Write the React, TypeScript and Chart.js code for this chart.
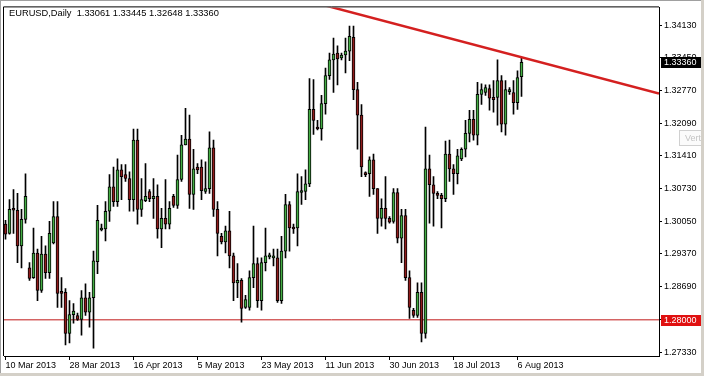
import { useEffect, useRef } from 'react';
import { Chart, registerables } from 'chart.js';

Chart.register(...registerables);

const symbolTitle = 'EURUSD,Daily';

const opens = [
  1.2999, 1.2980, 1.3032, 1.3028, 1.2954, 1.3009, 1.2908, 1.2888, 1.2939, 1.2861,
  1.2937, 1.2898, 1.2960, 1.3015, 1.2859, 1.2857, 1.2772, 1.2811, 1.2809, 1.2801,
  1.2846, 1.2816, 1.2846, 1.2921, 1.2987, 1.2989, 1.3026, 1.3077, 1.3046, 1.3112,
  1.3102, 1.3094, 1.3050, 1.3174, 1.3030, 1.3048, 1.3067, 1.3052, 1.3057, 1.2989,
  1.3011, 1.2999, 1.3057, 1.3038, 1.3092, 1.3164, 1.3176, 1.3061, 1.3118, 1.3118,
  1.3067, 1.3073, 1.3158, 1.3030, 1.2974, 1.2962, 1.2985, 1.2933, 1.2877, 1.2882,
  1.2826, 1.2826, 1.2888, 1.2917, 1.2840, 1.2919, 1.2931, 1.2929, 1.2929, 1.2840,
  1.2943, 1.3040, 1.2993, 1.2991, 1.3065, 1.3067, 1.3083, 1.3238, 1.3199, 1.3197,
  1.3250, 1.3308, 1.3341, 1.3355, 1.3345, 1.3351, 1.3359, 1.3388, 1.3279, 1.3226,
  1.3104, 1.3104, 1.3133, 1.3073, 1.3011, 1.3032, 1.3011, 1.3005, 1.3065, 1.2970,
  1.3017, 1.2888, 1.2820, 1.2809, 1.2857, 1.2772, 1.3114, 1.3081, 1.3061, 1.3059,
  1.3052, 1.3145, 1.3114, 1.3104, 1.3135, 1.3155, 1.3188, 1.3217, 1.3184, 1.3269,
  1.3273, 1.3281, 1.3263, 1.3263, 1.3298, 1.3207, 1.3275, 1.3273, 1.3252, 1.33061,
];
const highs = [
  1.3007, 1.3050, 1.3071, 1.3063, 1.3030, 1.3104, 1.2919, 1.2991, 1.2947, 1.2974,
  1.2954, 1.3005, 1.3046, 1.3046, 1.2888, 1.2865, 1.2840, 1.2834, 1.2814, 1.2861,
  1.2875, 1.2857, 1.2943, 1.3038, 1.2999, 1.3046, 1.3102, 1.3118, 1.3135, 1.3123,
  1.3123, 1.3108, 1.3197, 1.3197, 1.3094, 1.3125, 1.3071, 1.3094, 1.3081, 1.3032,
  1.3092, 1.3046, 1.3061, 1.3143, 1.3184, 1.3240, 1.3226, 1.3155, 1.3125, 1.3133,
  1.3129, 1.3191, 1.3174, 1.3046, 1.2980, 1.2995, 1.3026, 1.2939, 1.2917, 1.2886,
  1.2851, 1.2902, 1.2995, 1.2929, 1.2929, 1.2991, 1.2939, 1.2947, 1.2947, 1.2974,
  1.3061, 1.3046, 1.2999, 1.3104, 1.3098, 1.3112, 1.3302, 1.3300, 1.3215, 1.3267,
  1.3324, 1.3355, 1.3386, 1.3370, 1.3355, 1.3386, 1.3411, 1.3411, 1.3294, 1.3248,
  1.3108, 1.3139, 1.3145, 1.3073, 1.3052, 1.3098, 1.3015, 1.3073, 1.3073, 1.3030,
  1.3030, 1.2902, 1.2824, 1.2877, 1.2877, 1.3201, 1.3143, 1.3098, 1.3067, 1.3063,
  1.3172, 1.3174, 1.3123, 1.3155, 1.3158, 1.3215, 1.3236, 1.3236, 1.3294, 1.3291,
  1.3289, 1.3289, 1.3298, 1.3341, 1.3308, 1.3298, 1.3283, 1.3298, 1.3318, 1.33445,
];
const lows = [
  1.2968, 1.2978, 1.2980, 1.2919, 1.2908, 1.3001, 1.2882, 1.2886, 1.2840, 1.2857,
  1.2886, 1.2886, 1.2958, 1.2826, 1.2826, 1.2748, 1.2752, 1.2793, 1.2799, 1.2768,
  1.2809, 1.2785, 1.2741, 1.2896, 1.2985, 1.2964, 1.3005, 1.3036, 1.3036, 1.3050,
  1.3088, 1.3026, 1.3026, 1.2999, 1.3015, 1.3046, 1.3046, 1.3011, 1.2970, 1.2950,
  1.2989, 1.2989, 1.3034, 1.3032, 1.3088, 1.3164, 1.3032, 1.3030, 1.3104, 1.3050,
  1.3063, 1.3063, 1.3015, 1.2933, 1.2958, 1.2939, 1.2908, 1.2840, 1.2846, 1.2795,
  1.2824, 1.2820, 1.2867, 1.2826, 1.2820, 1.2902, 1.2927, 1.2912, 1.2836, 1.2834,
  1.2929, 1.2943, 1.2980, 1.2954, 1.3040, 1.3050, 1.3077, 1.3186, 1.3195, 1.3174,
  1.3228, 1.3300, 1.3273, 1.3289, 1.3341, 1.3314, 1.3339, 1.3258, 1.3155, 1.3098,
  1.3098, 1.3057, 1.3061, 1.2980, 1.2995, 1.2989, 1.3001, 1.3001, 1.2960, 1.2919,
  1.2882, 1.2803, 1.2805, 1.2805, 1.2754, 1.2762, 1.3001, 1.2995, 1.3052, 1.2991,
  1.3046, 1.3088, 1.3061, 1.3083, 1.3131, 1.3139, 1.3170, 1.3174, 1.3164, 1.3248,
  1.3267, 1.3236, 1.3232, 1.3205, 1.3191, 1.3184, 1.3269, 1.3228, 1.3238, 1.32648,
];
const closes = [
  1.2978, 1.3030, 1.3028, 1.2954, 1.3009, 1.3057, 1.2886, 1.2939, 1.2861, 1.2937,
  1.2898, 1.2980, 1.3015, 1.2855, 1.2855, 1.2772, 1.2811, 1.2818, 1.2801, 1.2846,
  1.2816, 1.2846, 1.2923, 1.3007, 1.2991, 1.3026, 1.3077, 1.3046, 1.3112, 1.3098,
  1.3094, 1.3050, 1.3174, 1.3030, 1.3050, 1.3057, 1.3052, 1.3057, 1.2989, 1.3011,
  1.2999, 1.3032, 1.3038, 1.3092, 1.3164, 1.3176, 1.3061, 1.3114, 1.3112, 1.3069,
  1.3073, 1.3158, 1.3030, 1.2980, 1.2962, 1.2985, 1.2933, 1.2877, 1.2882, 1.2824,
  1.2842, 1.2888, 1.2917, 1.2840, 1.2919, 1.2933, 1.2933, 1.2933, 1.2840, 1.2943,
  1.3040, 1.2991, 1.2989, 1.3067, 1.3069, 1.3083, 1.3238, 1.3215, 1.3197, 1.3250,
  1.3308, 1.3341, 1.3353, 1.3343, 1.3351, 1.3359, 1.3390, 1.3279, 1.3226, 1.3118,
  1.3102, 1.3133, 1.3073, 1.3011, 1.3032, 1.3011, 1.3003, 1.3065, 1.2970, 1.3017,
  1.2888, 1.2826, 1.2809, 1.2857, 1.2772, 1.3114, 1.3081, 1.3063, 1.3059, 1.3052,
  1.3145, 1.3114, 1.3104, 1.3141, 1.3155, 1.3188, 1.3217, 1.3184, 1.3269, 1.3279,
  1.3283, 1.3261, 1.3258, 1.3298, 1.3207, 1.3279, 1.3277, 1.3252, 1.3304, 1.33360,
];

const dateLabels = [
  '10 Mar 2013', '28 Mar 2013', '16 Apr 2013', '5 May 2013', '23 May 2013',
  '11 Jun 2013', '30 Jun 2013', '18 Jul 2013', '6 Aug 2013',
];
const dateTickBars = [0, 16, 32, 48, 64, 80, 96, 112, 128];

const priceTicks = [
  1.2733, 1.2801, 1.2869, 1.2937, 1.3005, 1.3073, 1.3141, 1.3209, 1.3277, 1.3345, 1.3413,
];

const supportLevel = 1.28;
const trendBars = [80, 163.375];
const trendPrices = [1.3454, 1.32711];

const GREEN = '#44ad44';
const RED = '#901c1c';
const FONT = "'Liberation Sans', Arial, sans-serif";

export default function App() {
  const ref = useRef<HTMLCanvasElement | null>(null);

  useEffect(() => {
    document.body.style.margin = '0';
    const canvas = ref.current;
    if (!canvas) return;

    const idx = opens.map((_, i) => i);
    const wickData = idx.map((i) => ({ x: i, y: [lows[i], highs[i]] }));
    const bodyData = idx.map((i) => ({ x: i, y: [opens[i], closes[i]] }));
    const bodyColors = idx.map((i) => (closes[i] >= opens[i] ? GREEN : RED));
    const last = opens.length - 1;

    const overlay = {
      id: 'overlay',
      beforeDraw(chart: any) {
        const { ctx, width, height } = chart;
        ctx.save();
        ctx.fillStyle = '#ffffff';
        ctx.fillRect(0, 0, width, height);
        ctx.restore();
      },
      afterDraw(chart: any) {
        const { ctx, chartArea, width, height } = chart;
        const ys = chart.scales.y;
        ctx.save();
        ctx.strokeStyle = '#000';
        ctx.lineWidth = 1;
        ctx.beginPath();
        ctx.moveTo(chartArea.left - 0.5, chartArea.bottom);
        ctx.lineTo(chartArea.left - 0.5, chartArea.top - 0.5);
        ctx.lineTo(chartArea.right, chartArea.top - 0.5);
        ctx.stroke();

        ctx.fillStyle = '#000';
        ctx.font = `9.3px ${FONT}`;
        ctx.textBaseline = 'middle';
        ctx.textAlign = 'left';
        const hdr = `${symbolTitle}  ${opens[last].toFixed(5)} ${highs[last].toFixed(5)} ${lows[last].toFixed(5)} ${closes[last].toFixed(5)}`;
        ctx.fillText(hdr, 9, 13);

        ctx.strokeStyle = '#d0d0d0';
        ctx.fillStyle = '#fbfbfb';
        ctx.fillRect(679.5, 130.5, 30, 15);
        ctx.strokeRect(679.5, 130.5, 30, 15);
        ctx.fillStyle = '#c4c4c4';
        ctx.font = `9px ${FONT}`;
        ctx.fillText('Vertical', 685, 139);

        const drawBox = (price: number, bg: string) => {
          const y = ys.getPixelForValue(price);
          ctx.fillStyle = bg;
          ctx.fillRect(661, Math.round(y) - 5, 41, 11);
          ctx.fillStyle = '#fff';
          ctx.font = `9px ${FONT}`;
          ctx.textBaseline = 'middle';
          ctx.fillText(price.toFixed(5), 664, Math.round(y) + 0.5);
        };
        drawBox(closes[last], '#000');
        drawBox(supportLevel, '#e01010');

        ctx.fillStyle = '#a0a0a0';
        ctx.fillRect(0, 0, width, 1);
        ctx.fillRect(0, 0, 1, height);
        ctx.fillStyle = '#d4d0c8';
        ctx.fillRect(width - 3, 0, 3, height);
        ctx.fillRect(0, height - 3, width, 3);
        ctx.restore();
      },
    };

    const chart = new Chart(canvas, {
      type: 'bar',
      data: {
        datasets: [
          {
            type: 'line',
            label: 'support',
            data: [
              { x: -0.375, y: supportLevel },
              { x: 163.375, y: supportLevel },
            ],
            borderColor: '#c01818',
            borderWidth: 1,
            pointRadius: 0,
            order: 5,
          } as any,
          {
            type: 'bar',
            label: 'wick',
            data: wickData as any,
            backgroundColor: '#000',
            borderWidth: 0,
            barThickness: 1,
            grouped: false,
            order: 4,
          } as any,
          {
            type: 'bar',
            label: 'body',
            data: bodyData as any,
            backgroundColor: bodyColors,
            borderColor: '#000',
            borderWidth: 1,
            borderSkipped: false,
            barThickness: 3,
            minBarLength: 2,
            grouped: false,
            order: 3,
          } as any,
          {
            type: 'line',
            label: 'trend',
            data: trendBars.map((b, k) => ({ x: b, y: trendPrices[k] })),
            borderColor: '#d42020',
            borderWidth: 2.5,
            pointRadius: 0,
            order: 1,
          } as any,
        ],
      },
      options: {
        responsive: false,
        animation: false,
        events: [],
        layout: { padding: { left: 4, top: 4, right: 0, bottom: 0 }, autoPadding: false } as any,
        plugins: {
          legend: { display: false },
          tooltip: { enabled: false },
          title: { display: false },
        },
        scales: {
          x: {
            type: 'linear',
            offset: false,
            min: -0.375,
            max: 163.375,
            afterBuildTicks: (scale: any) => {
              scale.ticks = dateTickBars.map((v) => ({ value: v }));
            },
            afterFit: (scale: any) => {
              scale.height = 20;
            },
            ticks: {
              autoSkip: false,
              maxRotation: 0,
              minRotation: 0,
              align: 'start',
              padding: 0,
              color: '#000',
              font: { family: FONT, size: 9 },
              callback: (v: any) => {
                const k = dateTickBars.indexOf(Number(v));
                return k >= 0 ? dateLabels[k] : '';
              },
            },
            grid: {
              offset: false,
              drawOnChartArea: false,
              drawTicks: true,
              tickLength: 4,
              color: '#000',
            },
            border: { display: true, color: '#000' },
          },
          y: {
            type: 'linear',
            position: 'right',
            min: 1.272476,
            max: 1.345009,
            afterBuildTicks: (scale: any) => {
              scale.ticks = priceTicks.map((v) => ({ value: v }));
            },
            afterFit: (scale: any) => {
              scale.width = 45;
            },
            ticks: {
              autoSkip: false,
              padding: 2,
              color: '#000',
              font: { family: FONT, size: 9 },
              callback: (v: any) => Number(v).toFixed(5),
            },
            grid: {
              drawOnChartArea: false,
              drawTicks: true,
              tickLength: 3,
              color: '#000',
            },
            border: { display: true, color: '#000' },
          },
        },
      },
      plugins: [overlay],
    } as any);

    return () => chart.destroy();
  }, []);

  return (
    <div style={{ width: 704, height: 376 }}>
      <canvas ref={ref} width={704} height={376} style={{ display: 'block' }} />
    </div>
  );
}
